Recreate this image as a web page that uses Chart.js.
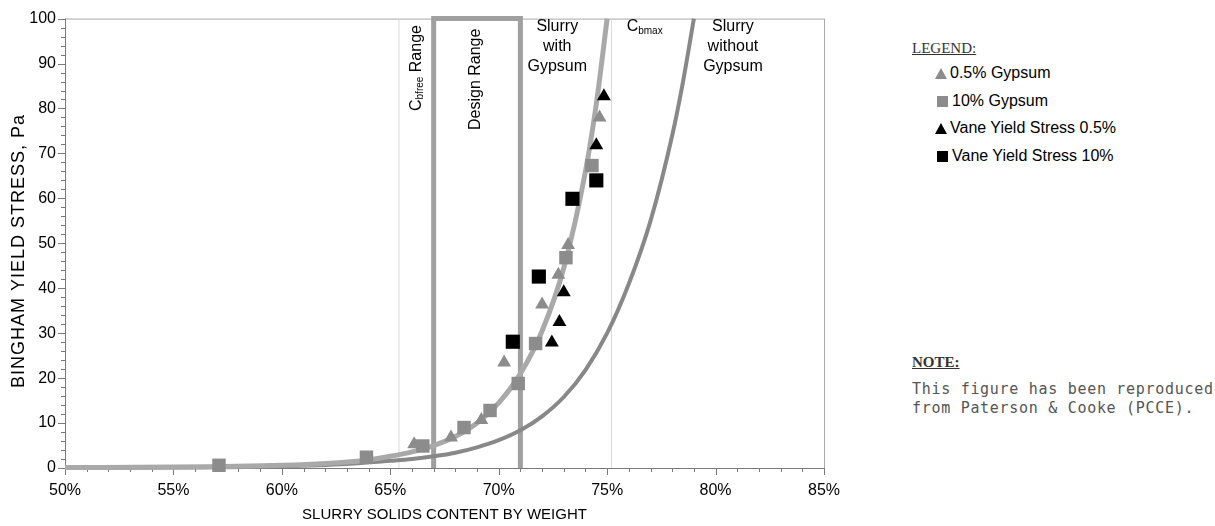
<!DOCTYPE html>
<html>
<head>
<meta charset="utf-8">
<script src="https://cdn.jsdelivr.net/npm/chart.js@4.4.1/dist/chart.umd.min.js"></script>
<style>
  body { margin: 0; background: #fff; width: 1215px; height: 526px; overflow: hidden; position: relative;
         font-family: "Liberation Sans", Arial, sans-serif; }
  #wrap { position: absolute; left: 0; top: 0; width: 860px; height: 526px; }
  .hdr { position: absolute; left: 912px; font-family: "Liberation Serif", "DejaVu Serif", serif; font-size: 15px;
         color: #333; text-decoration: underline; line-height: 16px; }
  .item { position: absolute; left: 935px; font-size: 16px; color: #000; white-space: nowrap; line-height: 18px;
          display: flex; align-items: center; }
  .tri { display: inline-block; width: 0; height: 0; border-left: 6px solid transparent; border-right: 6px solid transparent;
         border-bottom: 11px solid #8c8c8c; margin-right: 3px; }
  .sq { display: inline-block; width: 11px; height: 11px; background: #8c8c8c; margin: 0 4px 0 2px; }
  .blk.tri { border-bottom-color: #000; }
  .blk.sq { background: #000; }
  .note { position: absolute; left: 912px; top: 380px; font-family: "DejaVu Sans Mono", monospace; font-size: 15px;
          letter-spacing: 0.7px; color: #555; line-height: 19px; white-space: pre; }
</style>
</head>
<body>
<div id="wrap"><canvas id="c" width="860" height="526"></canvas></div>

<div class="hdr" style="top:40px">LEGEND:</div>
<div class="item" style="top:64px"><span class="tri"></span>0.5% Gypsum</div>
<div class="item" style="top:92px"><span class="sq"></span>10% Gypsum</div>
<div class="item" style="top:119px"><span class="tri blk"></span>Vane Yield Stress 0.5%</div>
<div class="item" style="top:147px"><span class="sq blk"></span>Vane Yield Stress 10%</div>

<div class="hdr" style="top:354px; font-weight:bold">NOTE:</div>
<div class="note">This figure has been reproduced
from Paterson &amp; Cooke (PCCE).</div>

<script>
// measured points (solids % by weight, Pa)
const gyp05X = [66.1, 67.8, 69.2, 70.25, 72.0, 72.75, 73.2, 74.65];
const gyp05Y = [5.3, 6.8, 10.7, 23.5, 36.4, 43.0, 49.6, 78.0];
const gyp10X = [57.1, 63.9, 66.5, 68.4, 69.6, 70.9, 71.7, 73.1, 74.3];
const gyp10Y = [0.6, 2.4, 4.9, 9.0, 12.8, 18.8, 27.7, 46.8, 67.3];
const vane05X = [72.45, 72.8, 73.0, 74.5, 74.85];
const vane05Y = [27.9, 32.5, 39.1, 71.8, 82.7];
const vane10X = [70.65, 71.85, 73.4, 74.5];
const vane10Y = [28.1, 42.6, 59.9, 64.0];

// fitted curves
const withGypX = [50, 55, 60, 62, 64, 65, 66, 67, 68, 69, 70, 71, 72, 73, 74, 74.5, 75];
const withGypY = [0.1, 0.2, 0.6, 1.0, 1.8, 2.6, 3.6, 5.0, 7.0, 10.0, 14.5, 21.0, 30.5, 44.5, 66, 81, 100];
const noGypX = [50, 55, 60, 63, 65, 66, 67, 68, 69, 70, 71, 72, 73, 74, 75, 76, 77, 78, 78.5, 79];
const noGypY = [0.05, 0.1, 0.4, 0.9, 1.6, 2.0, 2.6, 3.4, 4.6, 6.2, 8.4, 11.5, 15.8, 21.8, 30.0, 41, 55, 74, 86, 100];

// reference lines
const designRange = [67, 71];
const cbfreeLine = 65.4;
const cbmaxLine = 75.2;

const xTicks = [50, 55, 60, 65, 70, 75, 80, 85];
const yTicks = [0, 10, 20, 30, 40, 50, 60, 70, 80, 90, 100];

const zip = (xs, ys) => xs.map((x, i) => ({ x, y: ys[i] }));
const vline = v => [{ x: v, y: 0 }, { x: v, y: 100 }];

const GREY = '#8c8c8c';
const FAM = '"Liberation Sans", Arial, sans-serif';

const extras = {
  id: 'extras',
  beforeDatasetsDraw(chart) {
    const { ctx, chartArea: a, scales: { x, y } } = chart;
    ctx.save();
    ctx.lineWidth = 1;
    ctx.strokeStyle = '#a8a8a8';
    ctx.strokeRect(a.left + 0.5, a.top + 0.5, a.right - a.left, a.bottom - a.top);
    ctx.strokeStyle = '#7a7a7a';
    ctx.beginPath();
    ctx.moveTo(a.left + 0.5, a.top); ctx.lineTo(a.left + 0.5, a.bottom + 0.5);
    ctx.lineTo(a.right, a.bottom + 0.5);
    // x ticks every 1%
    for (let v = 50; v <= 85; v++) {
      const px = Math.round(x.getPixelForValue(v)) + 0.5;
      ctx.moveTo(px, a.bottom);
      ctx.lineTo(px, a.bottom + (v % 5 === 0 ? 7 : 4));
    }
    // y ticks every 2
    for (let v = 0; v <= 100; v += 2) {
      const py = Math.round(y.getPixelForValue(v)) + 0.5;
      ctx.moveTo(a.left, py);
      ctx.lineTo(a.left - (v % 10 === 0 ? 7 : 4), py);
    }
    ctx.stroke();

    // y axis title (long, as in the scan)
    ctx.save();
    ctx.translate(19, 251);
    ctx.rotate(-Math.PI / 2);
    ctx.font = '18px ' + FAM;
    ctx.letterSpacing = '1px';
    ctx.fillStyle = '#000';
    ctx.textAlign = 'center';
    ctx.textBaseline = 'middle';
    ctx.fillText('BINGHAM YIELD STRESS, Pa', 0, 0);
    ctx.restore();
    ctx.restore();
  },
  afterDatasetsDraw(chart) {
    const { ctx, scales: { x } } = chart;
    const f = '16px ' + FAM;
    const fs = '10px ' + FAM;
    ctx.save();
    ctx.fillStyle = '#000';
    ctx.textBaseline = 'middle';

    // stacked labels
    ctx.font = f;
    ctx.textAlign = 'center';
    const stack = (cx, lines) => lines.forEach((t, i) => ctx.fillText(t, cx, 27 + i * 20));
    stack(x.getPixelForValue(72.7), ['Slurry', 'with', 'Gypsum']);
    stack(x.getPixelForValue(80.8), ['Slurry', 'without', 'Gypsum']);

    // Cbmax
    ctx.textAlign = 'left';
    let cx = x.getPixelForValue(75.9);
    ctx.fillText('C', cx, 27);
    cx += ctx.measureText('C').width;
    ctx.font = fs;
    ctx.fillText('bmax', cx, 31);

    // rotated labels
    const rot = (px, py, parts) => {
      ctx.save();
      ctx.translate(px, py);
      ctx.rotate(-Math.PI / 2);
      let off = 0;
      parts.forEach(([t, sub]) => {
        ctx.font = sub ? fs : f;
        ctx.fillText(t, off, sub ? 4 : 0);
        off += ctx.measureText(t).width;
      });
      ctx.restore();
    };
    rot(x.getPixelForValue(66.2), 111, [['C'], ['bfree', true], [' Range']]);
    rot(x.getPixelForValue(68.95), 130, [['Design Range']]);
    ctx.restore();
  }
};

const pts = (label, xs, ys, style, color, r, order) => ({
  label, data: zip(xs, ys), pointStyle: style, pointRadius: r,
  backgroundColor: color, borderColor: color, borderWidth: 0, order, clip: false
});
const line = (label, data, color, w, order, extra) => Object.assign({
  label, data, showLine: true, pointRadius: 0, borderColor: color, borderWidth: w,
  order, clip: false, fill: false
}, extra || {});

new Chart(document.getElementById('c'), {
  type: 'scatter',
  data: {
    datasets: [
      pts('Vane Yield Stress 10%', vane10X, vane10Y, 'rect', '#000', 10, 0),
      pts('Vane Yield Stress 0.5%', vane05X, vane05Y, 'triangle', '#000', 8, 1),
      pts('10% Gypsum', gyp10X, gyp10Y, 'rect', GREY, 9.5, 2),
      pts('0.5% Gypsum', gyp05X, gyp05Y, 'triangle', GREY, 8, 3),
      line('Slurry with Gypsum', zip(withGypX, withGypY), '#a9a9a9', 5, 5, { cubicInterpolationMode: 'monotone' }),
      line('Slurry without Gypsum', zip(noGypX, noGypY), '#888888', 4, 6, { cubicInterpolationMode: 'monotone' }),
      line('Design Range', [
        { x: designRange[0], y: 0 }, { x: designRange[0], y: 100 },
        { x: designRange[1], y: 100 }, { x: designRange[1], y: 0 }
      ], '#a0a0a0', 5, 7),
      line('Cbfree', vline(cbfreeLine), '#dadada', 1, 8),
      line('Cbmax', vline(cbmaxLine), '#dadada', 1, 8)
    ]
  },
  options: {
    responsive: false,
    animation: false,
    events: [],
    layout: { padding: { top: 15, right: 36, left: 0, bottom: 0 } },
    plugins: { legend: { display: false }, tooltip: { enabled: false } },
    scales: {
      x: {
        type: 'linear', min: 50, max: 85,
        afterFit: s => { s.height = 58; },
        afterBuildTicks: s => { s.ticks = xTicks.map(v => ({ value: v })); },
        ticks: { callback: v => v + '%', padding: 13, maxRotation: 0, autoSkip: false,
                 color: '#000', font: { size: 16, family: FAM } },
        grid: { display: false, drawTicks: false },
        border: { display: false },
        title: { display: true, text: 'SLURRY SOLIDS CONTENT BY WEIGHT', color: '#000',
                 font: { size: 15, family: FAM }, padding: { top: 0, bottom: 2 } }
      },
      y: {
        type: 'linear', min: 0, max: 100,
        afterFit: s => { s.width = 65; },
        afterBuildTicks: s => { s.ticks = yTicks.map(v => ({ value: v })); },
        ticks: { padding: 9, color: '#000', font: { size: 16, family: FAM } },
        grid: { display: false, drawTicks: false },
        border: { display: false }
      }
    }
  },
  plugins: [extras]
});
</script>
</body>
</html>
